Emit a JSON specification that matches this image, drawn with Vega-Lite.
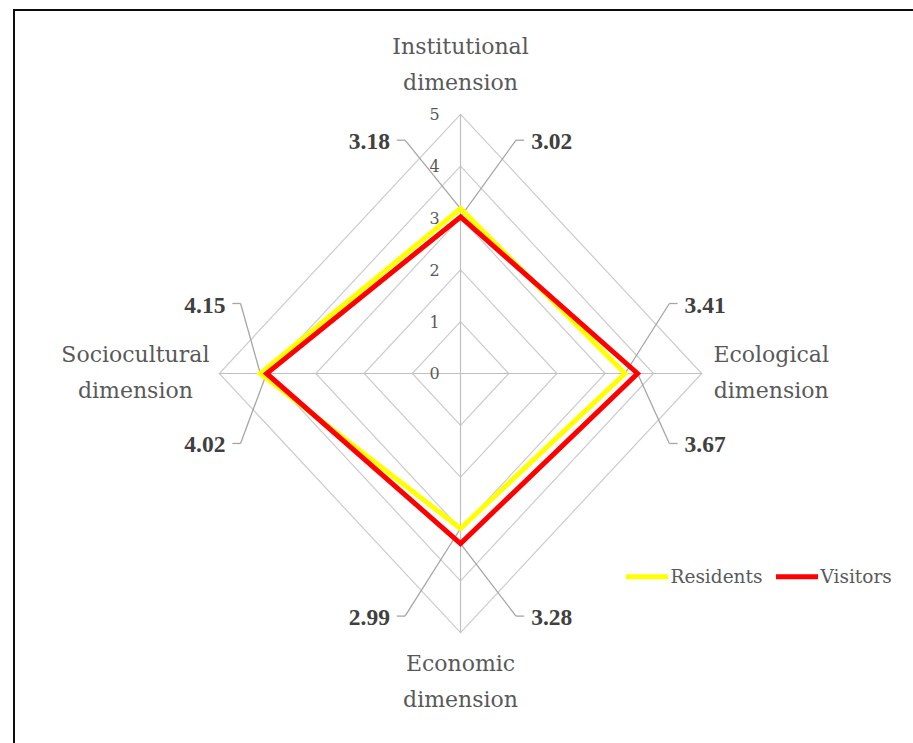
{
  "$schema": "https://vega.github.io/schema/vega-lite/v6.json",
  "width": 913,
  "height": 743,
  "autosize": {"type": "fit", "contains": "padding"},
  "padding": {"left": 13, "top": 9, "right": 0, "bottom": 0},
  "background": "white",
  "config": {"view": {"stroke": null}},
  "datasets": {
    "scores": [
      {"dimension": "Institutional", "series": "Residents", "value": 3.18},
      {"dimension": "Institutional", "series": "Visitors", "value": 3.02},
      {"dimension": "Ecological", "series": "Residents", "value": 3.41},
      {"dimension": "Ecological", "series": "Visitors", "value": 3.67},
      {"dimension": "Economic", "series": "Residents", "value": 2.99},
      {"dimension": "Economic", "series": "Visitors", "value": 3.28},
      {"dimension": "Sociocultural", "series": "Residents", "value": 4.15},
      {"dimension": "Sociocultural", "series": "Visitors", "value": 4.02}
    ],
    "axes": [
      {"dimension": "Institutional", "title": "Institutional dimension", "levels": [1, 2, 3, 4, 5]},
      {"dimension": "Ecological", "title": "Ecological dimension", "levels": [1, 2, 3, 4, 5]},
      {"dimension": "Economic", "title": "Economic dimension", "levels": [1, 2, 3, 4, 5]},
      {"dimension": "Sociocultural", "title": "Sociocultural dimension", "levels": [1, 2, 3, 4, 5]}
    ],
    "ticks": [{"tick": 0}, {"tick": 1}, {"tick": 2}, {"tick": 3}, {"tick": 4}, {"tick": 5}]
  },
  "layer": [
    {
      "data": {"name": "axes"},
      "transform": [
        {"flatten": ["levels"], "as": ["level"]},
        {"calculate": "datum.dimension==='Ecological'?1:datum.dimension==='Sociocultural'?-1:0", "as": "ux"},
        {"calculate": "datum.dimension==='Institutional'?1:datum.dimension==='Economic'?-1:0", "as": "uy"},
        {"calculate": "indexof(['Institutional','Ecological','Economic','Sociocultural'], datum.dimension)", "as": "idx"},
        {"calculate": "datum.level*datum.ux", "as": "gx"},
        {"calculate": "datum.level*datum.uy", "as": "gy"}
      ],
      "mark": {"type": "line", "interpolate": "linear-closed", "stroke": "#CCCCCC", "strokeWidth": 1.2},
      "encoding": {
        "x": {"field": "gx", "type": "quantitative", "scale": {"domain": [-9.277, 9.38], "nice": false, "zero": false}, "axis": null},
        "y": {"field": "gy", "type": "quantitative", "scale": {"domain": [-7.128, 7.031], "nice": false, "zero": false}, "axis": null},
        "detail": {"field": "level", "type": "nominal"},
        "order": {"field": "idx", "type": "quantitative"}
      }
    },
    {
      "data": {"name": "axes"},
      "transform": [
        {"calculate": "datum.dimension==='Ecological'?5:datum.dimension==='Sociocultural'?-5:0", "as": "x5"},
        {"calculate": "datum.dimension==='Institutional'?5:datum.dimension==='Economic'?-5:0", "as": "y5"}
      ],
      "mark": {"type": "rule", "stroke": "#BFBFBF", "strokeWidth": 1.2},
      "encoding": {
        "x": {"field": "x5", "type": "quantitative"},
        "y": {"field": "y5", "type": "quantitative"},
        "x2": {"datum": 0},
        "y2": {"datum": 0}
      }
    },
    {
      "data": {"name": "ticks"},
      "mark": {"type": "text", "font": "DejaVu Serif", "fontSize": 16, "color": "#595959", "align": "center", "baseline": "middle", "dx": -26, "dy": 1},
      "encoding": {
        "x": {"datum": 0},
        "y": {"field": "tick", "type": "quantitative"},
        "text": {"field": "tick", "type": "quantitative"}
      }
    },
    {
      "data": {"name": "axes"},
      "mark": {"type": "rule", "stroke": "#0D0D0D", "strokeWidth": 4, "clip": true},
      "encoding": {"x": {"datum": -9.277}}
    },
    {
      "data": {"name": "axes"},
      "mark": {"type": "rule", "stroke": "#0D0D0D", "strokeWidth": 4, "clip": true},
      "encoding": {"y": {"datum": 7.031}}
    },
    {
      "data": {"name": "scores"},
      "transform": [
        {"calculate": "datum.dimension==='Ecological'?1:datum.dimension==='Sociocultural'?-1:0", "as": "ux"},
        {"calculate": "datum.dimension==='Institutional'?1:datum.dimension==='Economic'?-1:0", "as": "uy"},
        {"calculate": "datum.value*datum.ux", "as": "px"},
        {"calculate": "datum.value*datum.uy", "as": "py"},
        {"calculate": "datum.series==='Residents'?-1:1", "as": "s"},
        {"calculate": "datum.ux===0 ? datum.s*1.15 : (datum.ux<0 ? -4.56 : 4.33)", "as": "ex"},
        {"calculate": "datum.uy===0 ? -datum.s*1.35 : (datum.uy>0 ? 4.5 : -4.68)", "as": "ey"},
        {"calculate": "datum.ux===0 ? datum.s : datum.ux", "as": "h"},
        {"calculate": "datum.ex + datum.h*0.17", "as": "sx"}
      ],
      "layer": [
        {
          "mark": {"type": "rule", "stroke": "#A6A6A6", "strokeWidth": 1.3},
          "encoding": {
            "x": {"field": "px", "type": "quantitative"},
            "y": {"field": "py", "type": "quantitative"},
            "x2": {"field": "ex"},
            "y2": {"field": "ey"}
          }
        },
        {
          "mark": {"type": "rule", "stroke": "#A6A6A6", "strokeWidth": 1.3},
          "encoding": {
            "x": {"field": "ex", "type": "quantitative"},
            "y": {"field": "ey", "type": "quantitative"},
            "x2": {"field": "sx"}
          }
        }
      ]
    },
    {
      "data": {"name": "scores"},
      "transform": [
        {"calculate": "datum.dimension==='Ecological'?1:datum.dimension==='Sociocultural'?-1:0", "as": "ux"},
        {"calculate": "datum.dimension==='Institutional'?1:datum.dimension==='Economic'?-1:0", "as": "uy"},
        {"calculate": "indexof(['Institutional','Ecological','Economic','Sociocultural'], datum.dimension)", "as": "idx"},
        {"calculate": "datum.value*datum.ux", "as": "px"},
        {"calculate": "datum.value*datum.uy", "as": "py"}
      ],
      "mark": {"type": "line", "interpolate": "linear-closed", "strokeWidth": 5, "strokeJoin": "miter"},
      "encoding": {
        "x": {"field": "px", "type": "quantitative"},
        "y": {"field": "py", "type": "quantitative"},
        "order": {"field": "idx", "type": "quantitative"},
        "color": {
          "field": "series",
          "type": "nominal",
          "scale": {"domain": ["Residents", "Visitors"], "range": ["#FFFF00", "#FF0000"]},
          "legend": {
            "title": null,
            "orient": "none",
            "legendX": 610.5,
            "legendY": 544,
            "direction": "horizontal",
            "symbolType": "stroke",
            "symbolSize": 1764,
            "symbolStrokeWidth": 5,
            "labelFont": "DejaVu Serif",
            "labelFontSize": 18.5,
            "labelColor": "#595959",
            "labelOffset": 0,
            "columnPadding": 3,
            "padding": 0
          }
        }
      }
    },
    {
      "data": {"name": "scores"},
      "transform": [
        {"calculate": "datum.dimension==='Ecological'?1:datum.dimension==='Sociocultural'?-1:0", "as": "ux"},
        {"calculate": "datum.dimension==='Institutional'?1:datum.dimension==='Economic'?-1:0", "as": "uy"},
        {"calculate": "datum.series==='Residents'?-1:1", "as": "s"},
        {"calculate": "datum.ux===0 ? datum.s*1.15 : (datum.ux<0 ? -4.56 : 4.33)", "as": "ex"},
        {"calculate": "datum.uy===0 ? -datum.s*1.35 : (datum.uy>0 ? 4.5 : -4.68)", "as": "ey"},
        {"calculate": "datum.ux===0 ? datum.s : datum.ux", "as": "h"},
        {"calculate": "datum.ex + datum.h*0.74", "as": "tx"}
      ],
      "mark": {"type": "text", "font": "Liberation Serif", "fontSize": 23.5, "fontWeight": "bold", "color": "#404040", "align": "center", "baseline": "middle", "dy": 2},
      "encoding": {
        "x": {"field": "tx", "type": "quantitative"},
        "y": {"field": "ey", "type": "quantitative"},
        "text": {"field": "value", "type": "quantitative", "format": ".2f"}
      }
    },
    {
      "data": {"name": "axes"},
      "transform": [
        {"calculate": "datum.dimension==='Ecological'?6.44:datum.dimension==='Sociocultural'?-6.74:0", "as": "lx"},
        {"calculate": "datum.dimension==='Institutional'?5.95:datum.dimension==='Economic'?-5.96:0", "as": "ly"}
      ],
      "mark": {"type": "text", "font": "DejaVu Serif", "fontSize": 22, "color": "#595959", "align": "center", "baseline": "middle", "lineBreak": " ", "lineHeight": 36, "dy": -18},
      "encoding": {
        "x": {"field": "lx", "type": "quantitative"},
        "y": {"field": "ly", "type": "quantitative"},
        "text": {"field": "title", "type": "nominal"}
      }
    }
  ]
}
